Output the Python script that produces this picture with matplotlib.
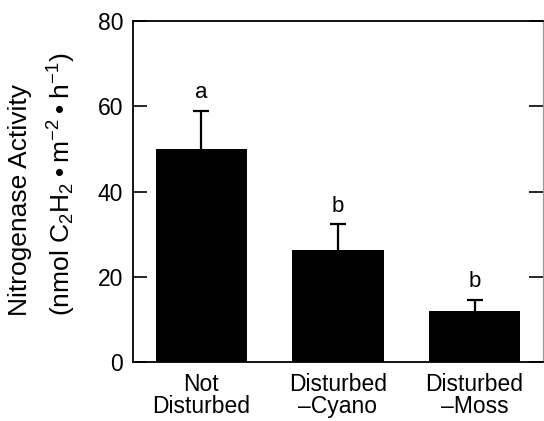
import numpy as np
import matplotlib.pyplot as plt

plt.rcParams['font.family'] = ['Liberation Sans', 'DejaVu Sans']
plt.rcParams['mathtext.fontset'] = 'custom'
plt.rcParams['mathtext.rm'] = 'Liberation Sans'
plt.rcParams['mathtext.it'] = 'Liberation Sans'

groups = ['Not\nDisturbed', 'Disturbed\n\u2013Cyano', 'Disturbed\n\u2013Moss']
activity = [50.0, 26.2, 12.0]
se = [9.0, 6.1, 2.5]
letters = ['a', 'b', 'b']

fig = plt.figure(figsize=(5.44, 4.21), dpi=100)
ax = fig.add_axes([0.2445, 0.140, 0.7535, 0.810])

x = np.arange(len(groups))
# symmetric bars drawn underneath, so only the upper half shows
ax.errorbar(x, activity, yerr=se, fmt='none', ecolor='black',
            elinewidth=1.6, capsize=5.5, capthick=1.6, zorder=1)
ax.bar(x, activity, width=0.667, color='black', zorder=2)

for xi, v, e, t in zip(x, activity, se, letters):
    ax.text(xi, v + e + 3, t, ha='center', va='baseline', fontsize=16)

ax.set_xlim(-0.5, 2.5)
ax.set_ylim(0, 80)
ax.set_yticks([0, 20, 40, 60, 80])
ax.set_xticks(x)
ax.set_xticklabels(groups, fontsize=16.5, linespacing=0.95)
ax.tick_params(axis='x', length=0, pad=8)
ax.tick_params(axis='y', direction='in', length=10, width=1.2, right=True,
               labelsize=16.5, pad=7)

for side in ['left', 'bottom', 'top']:
    ax.spines[side].set_linewidth(1.3)
ax.spines['right'].set_linewidth(0.8)
ax.spines['right'].set_color('#999999')

fig.text(0.079, 0.563,
         'Nitrogenase Activity\n'
         '(nmol C$_2$H$_2$\u2009\u2022\u2009m$^{-2}$\u2009\u2022\u2009h$^{-1}$)',
         rotation=90, ha='center', va='center', multialignment='left',
         fontsize=19, linespacing=1.55)

fig.savefig('out.png', dpi=100)
